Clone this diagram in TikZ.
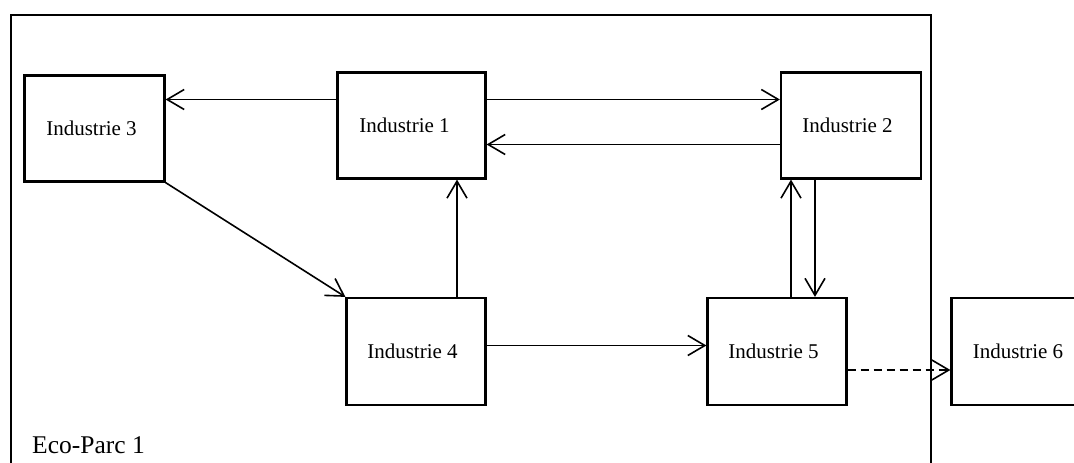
\documentclass[tikz,border=0pt]{standalone}
\usepackage{fontspec}
\setmainfont{Liberation Serif}
\usetikzlibrary{arrows.meta}
\tikzset{
  indbox/.style={draw, line width=2.2pt, minimum height=106pt, inner sep=0pt,
    font=\fontsize{21}{25}\selectfont},
  flow/.style={line width=1.6pt, -{Straight Barb[length=17pt,width=20pt,line width=1.6pt]}},
  flowdash/.style={flow, dash pattern=on 8pt off 5pt},
  frame/.style={draw, line width=2.2pt}
}
\begin{document}
\begin{tikzpicture}[x=1pt,y=-1pt]
\useasboundingbox (0,0) rectangle (1074,463);
\draw[frame] (11,15) rectangle (931,490);
\node[anchor=base west, inner sep=0pt, font=\fontsize{25.5}{30}\selectfont] (park) at (32,453) {Eco-Parc 1};
\node[indbox, minimum width=140pt] (I3) at (94.5,128.5) {\kern-6pt Industrie 3};
\node[indbox, minimum width=148pt] (I1) at (411.5,125.5) {\kern-14pt Industrie 1};
\node[indbox, minimum width=140pt] (I2) at (851,125.5) {\kern-7pt Industrie 2};
\node[indbox, minimum width=139pt, minimum height=107pt] (I4) at (416,351.5) {\kern-7pt Industrie 4};
\node[indbox, minimum width=139pt, minimum height=107pt] (I5) at (777,351.5) {\kern-7pt Industrie 5};
\node[indbox, minimum width=140pt, minimum height=107pt] (I6) at (1021.5,351.5) {\kern-7pt Industrie 6};
\coordinate (ya) at (0,99.5);
\coordinate (yb) at (0,144.5);
\coordinate (yc) at (0,345.5);
\coordinate (yd) at (0,370);
\coordinate (xa) at (457,0);
\coordinate (xb) at (791,0);
\coordinate (xc) at (815,0);
\draw[flow] (I1.west |- ya) -- (I3.east |- ya);
\draw[flow] (I1.east |- ya) -- (I2.west |- ya);
\draw[flow] (I2.west |- yb) -- (I1.east |- yb);
\draw[flow] (I3.south east) -- (I4.north west);
\draw[flow] (I4.north -| xa) -- (I1.south -| xa);
\draw[flow] (I4.east |- yc) -- (I5.west |- yc);
\draw[flow] (I5.north -| xb) -- (I2.south -| xb);
\draw[flow] (I2.south -| xc) -- (I5.north -| xc);
\draw[flowdash] (I5.east |- yd) -- (I6.west |- yd);
\end{tikzpicture}
\end{document}
